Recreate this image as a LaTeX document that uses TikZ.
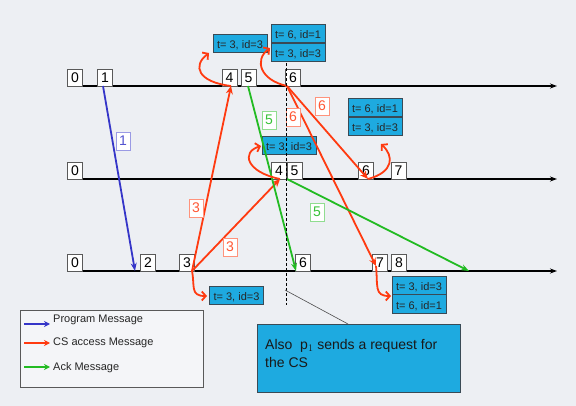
\documentclass[tikz,border=0pt]{standalone}
\usepackage{fontspec}
\setmainfont{Liberation Sans}
\usetikzlibrary{arrows.meta}
\definecolor{bgc}{HTML}{EDEFF3}
\definecolor{redm}{HTML}{FF3A10}
\definecolor{bluem}{HTML}{3535C8}
\definecolor{greenm}{HTML}{22BB22}
\definecolor{tsfill}{HTML}{1EAAE0}
\definecolor{tsedge}{HTML}{3A4A55}
\tikzset{
  tline/.style={draw=black, line width=1.4pt, -{Stealth[length=7pt,width=5pt]}},
  stamp/.style={draw=black!65, fill=white, line width=0.6pt, minimum width=15pt, minimum height=17pt, inner sep=0pt, font=\fontsize{14}{16}\selectfont},
  tsbox/.style={draw=tsedge, fill=tsfill, line width=0.8pt, minimum width=54pt, inner xsep=0pt, inner ysep=0.3pt, text height=14pt, text depth=3.5pt, font=\fontsize{11}{12}\selectfont, text=black!85},
  redarr/.style={draw=redm, line width=1.8pt, -{Stealth[length=8pt,width=7pt]}},
  redloop/.style={draw=redm, line width=1.8pt, -{Straight Barb[length=4pt,width=9pt]}},
  bluearr/.style={draw=bluem, line width=1.8pt, -{Stealth[length=8pt,width=6pt]}},
  greenarr/.style={draw=greenm, line width=1.8pt, -{Stealth[length=8pt,width=6pt]}},
  lab/.style={fill=white, line width=0.8pt, minimum width=14pt, minimum height=18pt, inner sep=0pt, font=\fontsize{14}{16}\selectfont},
  redlab/.style={lab, draw=redm!55, text=redm!85},
  greenlab/.style={lab, draw=greenm!50, text=greenm!90},
  bluelab/.style={lab, draw=bluem!50, text=bluem!85},
  legarr/.style={line width=2pt, -{Stealth[length=6pt,width=6pt]}},
  legtext/.style={anchor=west, inner sep=0pt, font=\fontsize{11}{12}\selectfont, text=black!85}
}
\begin{document}
\begin{tikzpicture}[x=1pt,y=-1pt]
\useasboundingbox (0,0) rectangle (576,406);
\fill[bgc] (0,0) rectangle (576,406);

% timelines
\coordinate (topS) at (67,86);  \coordinate (topE) at (557,86);
\coordinate (midS) at (67,179); \coordinate (midE) at (557,179);
\coordinate (botS) at (67,271); \coordinate (botE) at (557,271);
\draw[tline] (topS) -- (topE);
\draw[tline] (midS) -- (midE);
\draw[tline] (botS) -- (botE);

% stamps
\node[stamp] (a0) at (75,77.5) {0};
\node[stamp] (a1) at (105,77.5) {1};
\node[stamp] (a4) at (229.5,77.5) {4};
\node[stamp] (a5) at (248.5,77.5) {5};
\node[stamp] (a6) at (293,77.5) {6};
\node[stamp] (b0) at (75,170.5) {0};
\node[stamp] (b4) at (279,170.5) {4};
\node[stamp] (b5) at (294.5,170.5) {5};
\node[stamp] (b6) at (366,170.5) {6};
\node[stamp] (b7) at (398.5,170.5) {7};
\node[stamp] (c0) at (75,262.5) {0};
\node[stamp] (c2) at (148,262.5) {2};
\node[stamp] (c3) at (187,262.5) {3};
\node[stamp] (c6) at (303,262.5) {6};
\node[stamp] (c7) at (380,262.5) {7};
\node[stamp] (c8) at (399,262.5) {8};

% event points
\coordinate (t1) at (103,86);
\coordinate (t4) at (231,86);
\coordinate (t5) at (248,86);
\coordinate (t6) at (287,86);
\coordinate (m4) at (280,179);
\coordinate (m5) at (287,179);
\coordinate (m6) at (368,179);
\coordinate (q2) at (135,271);
\coordinate (q3) at (192,271);
\coordinate (q6) at (296,271);
\coordinate (q7) at (376,266);
\coordinate (q8) at (469,271);

% timestamp boxes
\node[tsbox] (ts1) at (240,43.5) {t= 3, id=3};
\node[tsbox] (ts2a) at (298,33.5) {t= 6, id=1};
\node[tsbox, anchor=north] (ts2b) at (ts2a.south) {t= 3, id=3};
\node[tsbox] (ts3a) at (375,107.5) {t= 6, id=1};
\node[tsbox, anchor=north] (ts3b) at (ts3a.south) {t= 3, id=3};
\node[tsbox] (ts4) at (289,145.5) {t= 3, id=3};
\node[tsbox] (ts5) at (236.5,295.5) {t= 3, id=3};
\node[tsbox] (ts6a) at (419,285) {t= 3, id=3};
\node[tsbox, anchor=north] (ts6b) at (ts6a.south) {t= 6, id=1};

% messages
\draw[bluearr] (t1) -- (q2);
\draw[redarr] (q3) -- (t4);
\draw[redarr] (q3) -- (m4);
\draw[redarr] (t6) -- (m6);
\draw[redarr] (t6) -- (q7);
\draw[greenarr] (t5) -- (q6);
\draw[greenarr] (m5) -- (q8);

% local loops
\draw[redloop] (t4) .. controls (198,82) and (192,66) .. (209,53);
\draw[redloop] (t6) .. controls (260,80) and (254,60) .. (270,48);
\draw[redloop] (m4) .. controls (246,172) and (241,152) .. (261,146);
\draw[redloop] (m6) .. controls (394,172) and (394,156) .. (381,144);
\draw[redloop] (q3) .. controls (195,286) and (190,296) .. (207,296);
\draw[redloop] (q7) .. controls (378,286) and (374,296) .. (391,296);

% labels
\node[bluelab] (l1) at (123,141) {1};
\node[redlab] (l3a) at (196,208) {3};
\node[redlab] (l3b) at (230,247) {3};
\node[redlab] (l6a) at (322,106) {6};
\node[redlab] (l6b) at (293,117) {6};
\node[greenlab] (l5a) at (269,120) {5};
\node[greenlab] (l5b) at (317,212) {5};

% dashed line
\coordinate (dtop) at (286,63);
\coordinate (dbot) at (286,305);
\draw[black, line width=0.8pt, dash pattern=on 3pt off 2pt] (dtop) -- (dbot);

% callout
\node[draw=tsedge, fill=tsfill, line width=0.8pt, minimum width=203pt, minimum height=68pt, anchor=north west, inner sep=0pt] (call) at (257,324) {};
\node[anchor=north west, align=left, inner sep=0pt, font=\fontsize{14}{18}\selectfont, text=black!90] (calltext) at (265,339) {Also\ \ p$_1$ sends a request for\\the CS};
\coordinate (cfrom) at (285,290);
\coordinate (cto) at (348,324);
\draw[black!70, line width=0.6pt] (cfrom) -- (cto);

% legend
\node[draw=black!65, fill=bgc!60!white, line width=0.8pt, minimum width=183pt, minimum height=77pt, anchor=north west, inner sep=0pt] (leg) at (20,310) {};
\coordinate (lb1) at (24,324); \coordinate (lb2) at (50,324);
\coordinate (lr1) at (24,343); \coordinate (lr2) at (50,343);
\coordinate (lg1) at (24,367); \coordinate (lg2) at (50,367);
\draw[legarr, bluem] (lb1) -- (lb2);
\draw[legarr, redm] (lr1) -- (lr2);
\draw[legarr, greenm] (lg1) -- (lg2);
\node[legtext] (lt1) at (53,320) {Program Message};
\node[legtext] (lt2) at (53,343) {CS access Message};
\node[legtext] (lt3) at (53,367.5) {Ack Message};
\end{tikzpicture}
\end{document}
